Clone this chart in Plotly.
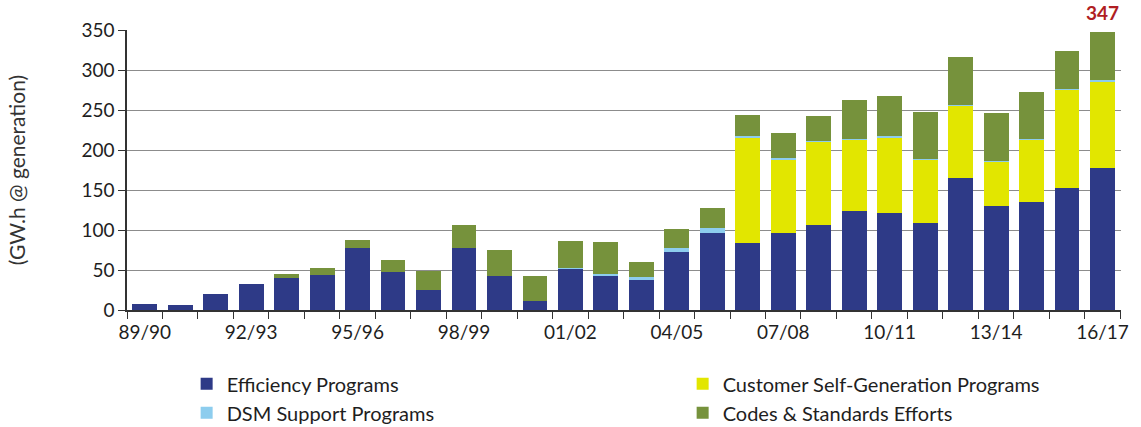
import plotly.graph_objects as go

# Fiscal years, 1989/90 through 2016/17
years = ["89/90", "90/91", "91/92", "92/93", "93/94", "94/95", "95/96", "96/97",
         "97/98", "98/99", "99/00", "00/01", "01/02", "02/03", "03/04", "04/05",
         "05/06", "06/07", "07/08", "08/09", "09/10", "10/11", "11/12", "12/13",
         "13/14", "14/15", "15/16", "16/17"]

# Annual savings by program type (GW.h @ generation)
efficiency = [8, 6, 20, 33, 40, 44, 78, 48, 25, 77, 42, 11, 52, 42, 38, 72,
              96, 84, 96, 106, 124, 121, 109, 165, 130, 135, 152, 178]
self_generation = [0, 0, 0, 0, 0, 0, 0, 0, 0, 0, 0, 0, 0, 0, 0, 0,
                   0, 132, 92, 104, 89, 95, 79, 90, 55, 78, 123, 107]
dsm_support = [0, 0, 0, 0, 0, 0, 0, 0, 0, 0, 0, 0, 1, 3, 3, 5,
               7, 2, 2, 1, 1, 1, 1, 1, 1, 1, 1, 2]
codes_standards = [0, 0, 0, 0, 5, 9, 10, 15, 24, 29, 33, 31, 33, 40, 19, 24,
                   25, 26, 31, 31, 48, 51, 58, 60, 60, 58, 48, 60]

tick_labels = [y if i % 3 == 0 else "" for i, y in enumerate(years)]

NAVY = "#2E3A87"
LIGHT_BLUE = "#8DCDEE"
YELLOW = "#E2E600"
GREEN = "#76923C"
FONT = "Lato"

fig = go.Figure()
# stacked bottom to top: efficiency, self-generation, DSM support, codes & standards
fig.add_trace(go.Bar(x=years, y=efficiency, name="Efficiency Programs",
                     marker=dict(color=NAVY, line=dict(width=0)), legend="legend"))
fig.add_trace(go.Bar(x=years, y=self_generation, name="Customer Self-Generation Programs",
                     marker=dict(color=YELLOW, line=dict(width=0)), legend="legend2"))
fig.add_trace(go.Bar(x=years, y=dsm_support, name="DSM Support Programs",
                     marker=dict(color=LIGHT_BLUE, line=dict(width=0)), legend="legend"))
fig.add_trace(go.Bar(x=years, y=codes_standards, name="Codes & Standards Efforts",
                     marker=dict(color=GREEN, line=dict(width=0)), legend="legend2"))

last_total = efficiency[-1] + dsm_support[-1] + self_generation[-1] + codes_standards[-1]
fig.add_annotation(x=years[-1], y=last_total, text=f"<b>{last_total}</b>",
                   showarrow=False, yanchor="bottom", yshift=6,
                   font=dict(family=FONT, size=19, color="#B01E23"))

# two legend columns below the axis (vertical position in container coordinates)
legend_style = dict(
    orientation="v", yref="container", yanchor="top", y=0.147,
    xref="paper", xanchor="left",
    font=dict(family=FONT, size=20, color="#1E1E1E"),
    traceorder="normal", itemwidth=30, tracegroupgap=0,
    bgcolor="rgba(0,0,0,0)",
)

fig.update_layout(
    barmode="stack",
    bargap=0.3,
    width=1141, height=427,
    margin=dict(l=127, r=13, t=30, b=117),
    paper_bgcolor="white", plot_bgcolor="white",
    font=dict(family=FONT, size=19, color="#1E1E1E"),
    legend=dict(x=0.060, **legend_style),
    legend2=dict(x=0.559, **legend_style),
    xaxis=dict(
        type="category", tickmode="array", tickvals=years, ticktext=tick_labels,
        tickson="boundaries", ticks="outside", ticklen=7, tickcolor="#333333",
        tickangle=0, ticklabelstandoff=4,
        showline=True, linecolor="#333333", linewidth=1.5,
        tickfont=dict(family=FONT, size=19, color="#1E1E1E"),
        showgrid=False,
    ),
    yaxis=dict(
        range=[0, 350], dtick=50, ticks="outside", ticklen=7, tickcolor="#333333",
        showline=True, linecolor="#333333", linewidth=1.5,
        gridcolor="#8C8C8C", gridwidth=1.2,
        tickfont=dict(family=FONT, size=19, color="#1E1E1E"),
        title=dict(text="(GW.h @ generation)", standoff=50,
                   font=dict(family=FONT, size=21, color="#333333")),
        zeroline=False,
    ),
)

fig.write_html("out.html")
